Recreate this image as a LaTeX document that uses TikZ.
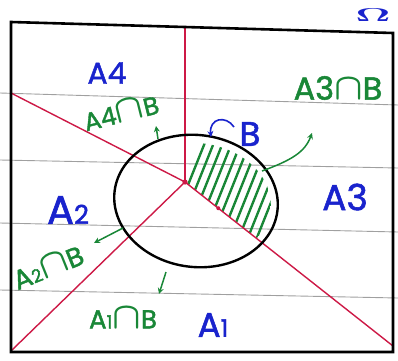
\documentclass[tikz,border=0pt]{standalone}
\usepackage{amsmath}
\usepackage{fontspec}
\setmainfont{Poppins}[BoldFont=Poppins, BoldFeatures={FakeBold=1.6}]
\usepackage{tikz}
\usetikzlibrary{shapes.geometric,arrows.meta,calc}

\definecolor{splitred}{RGB}{205,25,70}
\definecolor{inkblue}{RGB}{25,35,205}
\definecolor{inkgreen}{RGB}{25,135,55}
\definecolor{rulegray}{RGB}{120,120,120}

\newcommand{\capsym}{\scalebox{1.5}{$\boldsymbol{\cap}$}}

\begin{document}
\begin{tikzpicture}[
    x=1pt, y=1pt,
    every node/.style={inner sep=0pt},
    setlabel/.style={text=inkblue, font=\bfseries\fontsize{36}{36}\selectfont},
    caplabel/.style={text=inkgreen, font=\bfseries\fontsize{28}{28}\selectfont},
    splitline/.style={splitred, line width=1.4pt},
    ruleline/.style={rulegray!70, line width=0.9pt},
    pointer/.style={-{Stealth[length=6pt,width=6pt]}, inkgreen, line width=1.5pt},
    hatchline/.style={inkgreen, line width=2.4pt, line cap=round}
]
\useasboundingbox (0,0) rectangle (398,360);
\fill[white] (0,0) rectangle (398,360);

%% ── Ruled paper lines ────────────────────────────────
\draw[ruleline] (0,267) -- (398,255);
\draw[ruleline] (0,200) -- (398,192);
\draw[ruleline] (0,137) -- (398,128);
\draw[ruleline] (0,70) -- (398,62);

%% ── Partition points ─────────────────────────────────
\coordinate (O) at (185,178);
\coordinate (top) at (185,333);
\coordinate (ul) at (11,267);
\coordinate (ll) at (12,10);
\coordinate (lr) at (393,14);

%% ── Event B and its hatched part ─────────────────────
\node[ellipse, minimum width=164, minimum height=132, rotate=-7] (B) at (196,159) {};
\begin{scope}
    \clip (O) -- (top) -- (393,333) -- (lr) -- cycle;
    \clip[rotate around={-7:(196,159)}] (197,159) ellipse (74 and 58);
    \foreach \i in {0,...,16}{
        \draw[hatchline] (150+9*\i,80) -- (210+9*\i,230);
    }
\end{scope}

%% ── Partition lines ──────────────────────────────────
\foreach \e in {top,ul,ll,lr}{
    \draw[splitline] (O) -- (\e);
}
\fill[splitred] (O) circle (2.6);
\fill[splitred] ($(O)!0.16!(lr)$) circle (2);

\draw[black, line width=2.4pt, rotate=-7] (B.center) ellipse (82 and 66);

%% ── Sample space frame ───────────────────────────────
\draw[black, line width=2.6pt] (11,338) -- (393,327) -- (393,8) -- (11,8) -- cycle;
\node[text=inkblue, font=\fontsize{20}{20}\selectfont] (omega) at (373,345)
    {\scalebox{2.1}[0.9]{$\boldsymbol{\Omega}$}};

%% ── Set labels ───────────────────────────────────────
\node[setlabel, font=\bfseries\fontsize{30}{30}\selectfont] (a4) at (107,287) {A4};
\node[setlabel, font=\bfseries\fontsize{36}{36}\selectfont] (a3) at (345,163) {A3};
\node[setlabel, font=\bfseries\fontsize{40}{40}\selectfont] (a2) at (68,150)
    {A{\fontsize{26}{26}\selectfont 2}};
\node[setlabel, font=\bfseries\fontsize{34}{34}\selectfont] (a1) at (213,35)
    {A{\fontsize{24}{24}\selectfont 1}};
\node[setlabel, font=\bfseries\fontsize{34}{34}\selectfont] (bl) at (250,226) {B};

%% ── Intersection labels ──────────────────────────────
\node[caplabel, font=\bfseries\fontsize{25}{25}\selectfont, rotate=14] (a4b) at (121,248) {A4\capsym B};
\node[caplabel, font=\bfseries\fontsize{32}{32}\selectfont] (a3b) at (338,272) {A3\capsym B};
\node[caplabel, font=\bfseries\fontsize{27}{27}\selectfont, rotate=22] (a2b) at (48,93)
    {A{\fontsize{18}{18}\selectfont 2}\capsym B};
\node[caplabel, font=\bfseries\fontsize{26}{26}\selectfont] (a1b) at (123,42)
    {A{\fontsize{18}{18}\selectfont 1}\capsym B};

%% ── Pointers ─────────────────────────────────────────
\draw[pointer] (158,221) -- (156,234);
\draw[pointer] (123,132) -- (94,117);
\draw[pointer] (166,88) -- (159,66);
\draw[pointer] (262,189) .. controls (292,200) and (305,208) .. (312,227);
\draw[-{Stealth[length=6pt,width=6pt]}, inkblue, line width=1.6pt]
    (234,233) .. controls (226,245) and (209,242) .. (211,223);

\end{tikzpicture}
\end{document}
